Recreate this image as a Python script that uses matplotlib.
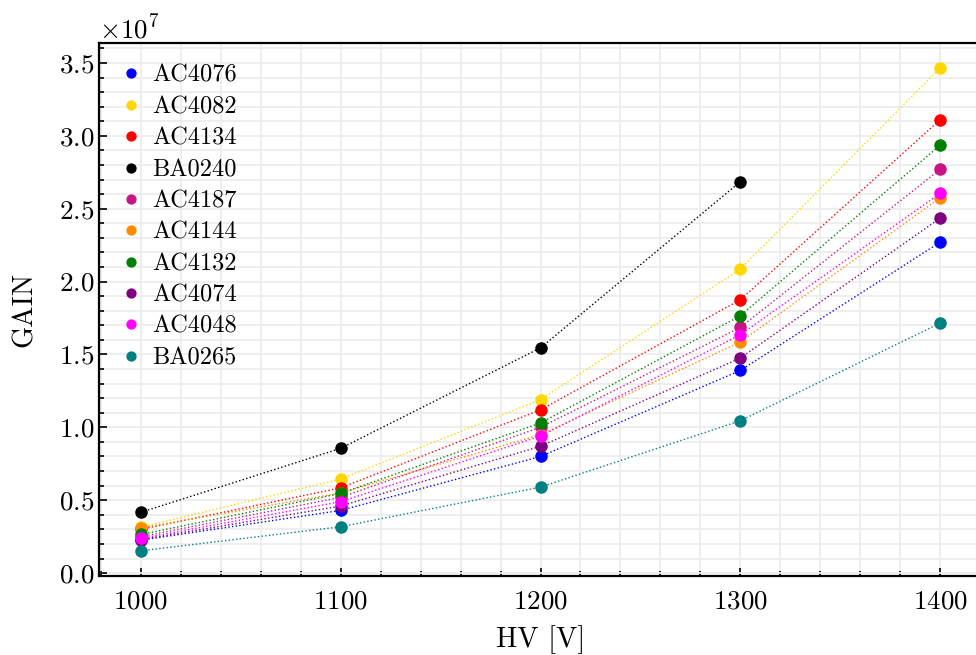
import matplotlib
matplotlib.use("Agg")
import matplotlib.pyplot as plt
from matplotlib.ticker import MultipleLocator
import numpy as np

plt.rcParams.update({
    "font.family": "serif",
    "font.serif": ["cmr10"],
    "mathtext.fontset": "cm",
    "axes.formatter.use_mathtext": True,
    "axes.unicode_minus": False,
})

hv = [1000, 1100, 1200, 1300, 1400]
names = ["AC4076", "AC4082", "AC4134", "BA0240", "AC4187",
         "AC4144", "AC4132", "AC4074", "AC4048", "BA0265"]
colors = ["blue", "gold", "red", "black", "mediumvioletred",
          "darkorange", "green", "purple", "magenta", "teal"]
AC4076 = [0.226, 0.43, 0.80, 1.39, 2.27]
AC4082 = [0.315, 0.645, 1.19, 2.085, 3.465]
AC4134 = [0.30, 0.585, 1.12, 1.875, 3.11]
BA0240 = [0.417, 0.856, 1.545, 2.685]
AC4187 = [0.25, 0.52, 1.00, 1.685, 2.77]
AC4144 = [0.31, 0.55, 0.95, 1.585, 2.575]
AC4132 = [0.265, 0.547, 1.03, 1.765, 2.935]
AC4074 = [0.23, 0.46, 0.87, 1.475, 2.435]
AC4048 = [0.238, 0.49, 0.94, 1.635, 2.605]
BA0265 = [0.153, 0.318, 0.59, 1.045, 1.715]
series = [AC4076, AC4082, AC4134, BA0240, AC4187,
          AC4144, AC4132, AC4074, AC4048, BA0265]
scale = 1e7

W, H = 976, 655
fig = plt.figure(figsize=(W / 100, H / 100), dpi=100)
ax = fig.add_axes([99 / W, 1 - 576 / H, (982 - 99) / W, (576 - 43) / H])

for name, col, vals in zip(names, colors, series):
    y = np.array(vals) * scale
    x = hv[:len(vals)]
    ax.plot(x, y, ls=":", lw=1.0, color=col, zorder=2)
    ax.plot(x, y, ls="none", marker="o", ms=8, color=col, label=name, zorder=3)

ax.set_xlim(979, 1421)
ax.set_ylim(-0.02e7, 3.637e7)
ax.xaxis.set_major_locator(MultipleLocator(100))
ax.xaxis.set_minor_locator(MultipleLocator(20))
ax.yaxis.set_major_locator(MultipleLocator(0.5e7))
ax.yaxis.set_minor_locator(MultipleLocator(0.1e7))
ax.grid(True, which="both", color="0.93", lw=1.3, zorder=0)
ax.set_axisbelow(True)
ax.tick_params(which="both", direction="in", labelsize=19.5, width=1.2)
ax.tick_params(which="major", length=6)
ax.tick_params(which="minor", length=3.5)
ax.tick_params(axis="x", pad=10)
for s in ax.spines.values():
    s.set_linewidth(1.6)
ax.yaxis.get_offset_text().set_fontsize(19.5)

ax.set_xlabel("HV [V]", fontsize=20.5, labelpad=8)
ax.set_ylabel("GAIN", fontsize=20.5, labelpad=15)

leg = ax.legend(loc="upper left", frameon=False, fontsize=17.5, handlelength=0.8,
                handletextpad=0.5, labelspacing=0.38, markerscale=0.8,
                borderaxespad=0.5)

fig.savefig("out.png", dpi=100)
